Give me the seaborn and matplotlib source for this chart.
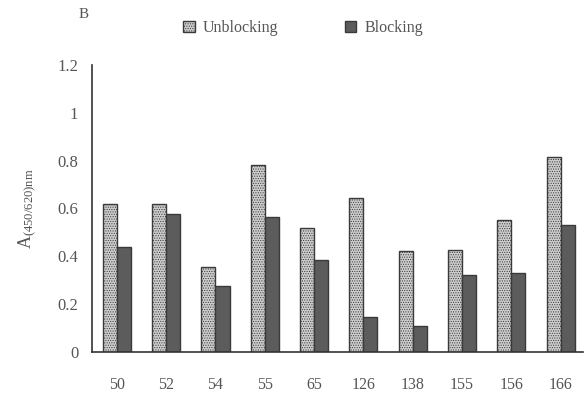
import numpy as np
import pandas as pd
import seaborn as sns
import matplotlib.pyplot as plt

# data
samples = ['50', '52', '54', '55', '65', '126', '138', '155', '156', '166']
unblocking = [0.62, 0.62, 0.355, 0.78, 0.52, 0.643, 0.42, 0.428, 0.552, 0.817]
blocking = [0.44, 0.576, 0.276, 0.563, 0.385, 0.146, 0.11, 0.321, 0.328, 0.53]
groups = ['Unblocking', 'Blocking']

df = pd.DataFrame({
    'sample': samples * 2,
    'value': unblocking + blocking,
    'group': [groups[0]] * len(samples) + [groups[1]] * len(samples),
})

sns.set_style('white')
plt.rcParams['font.family'] = ['Liberation Serif', 'DejaVu Serif']
plt.rcParams['mathtext.fontset'] = 'custom'
plt.rcParams['mathtext.rm'] = 'Liberation Serif'
plt.rcParams['mathtext.it'] = 'Liberation Serif'
plt.rcParams['hatch.color'] = '#9a9a9a'
plt.rcParams['hatch.linewidth'] = 0.5

text_col = '#555555'
fig = plt.figure(figsize=(5.87, 3.94), dpi=100)
ax = fig.add_axes([0.157, 0.107, 0.836, 0.728])

palette = {'Unblocking': '#cdcdcd', 'Blocking': '#5c5c5c'}
sns.barplot(data=df, x='sample', y='value', hue='group', order=samples,
            hue_order=groups, palette=palette, width=0.57, ax=ax,
            edgecolor='#3a3a3a', linewidth=1.0, saturation=1, legend=False)

# stippled texture on the light bars
for patch in ax.patches[:len(samples)]:
    patch.set_hatch('.......')

ax.set_xlim(-0.5, 9.45)
ax.set_ylim(0, 1.2)
ax.set_yticks([0, 0.2, 0.4, 0.6, 0.8, 1.0, 1.2])
ax.set_yticklabels(['0', '0.2', '0.4', '0.6', '0.8', '1', '1.2'])
ax.set_xlabel('')
ax.set_ylabel(r'A$_{\mathregular{(450/620)nm}}$', color=text_col, fontsize=13, labelpad=14)

ax.tick_params(axis='y', direction='in', length=4, width=1, color='#333333',
               labelsize=12, labelcolor=text_col, pad=10)
ax.tick_params(axis='x', length=0, labelsize=11.5, labelcolor=text_col, pad=18)

sns.despine(ax=ax)
for side in ['left', 'bottom']:
    ax.spines[side].set_color('#333333')
    ax.spines[side].set_linewidth(1.2)

# legend across the top
handles = [plt.Rectangle((0, 0), 1, 1, facecolor=palette[g], edgecolor='#3a3a3a',
                         hatch='.......' if g == 'Unblocking' else None) for g in groups]
fig.legend(handles, groups, loc='upper left', bbox_to_anchor=(0.288, 0.985), ncol=2,
           frameon=False, fontsize=11.5, labelcolor=text_col, columnspacing=4.2,
           handlelength=0.7, handleheight=0.7, handletextpad=0.5)

fig.text(0.134, 0.955, 'B', color=text_col, fontsize=11)

fig.savefig('out.png', dpi=100)
